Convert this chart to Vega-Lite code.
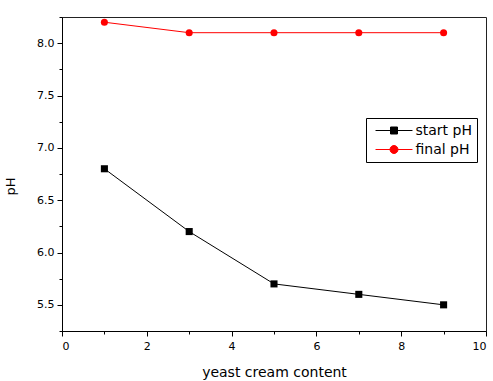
{
  "$schema": "https://vega.github.io/schema/vega-lite/v6.json",
  "width": 424,
  "height": 314,
  "autosize": {"type": "none"},
  "padding": {"left": 62, "top": 17, "right": 7, "bottom": 50},
  "background": "white",
  "config": {
    "view": {"stroke": "#222", "strokeWidth": 1},
    "font": "DejaVu Sans",
    "axis": {
      "domainColor": "black",
      "tickColor": "black",
      "labelColor": "black",
      "titleColor": "black",
      "grid": false,
      "labelFont": "DejaVu Sans",
      "labelFontSize": 11,
      "titleFont": "DejaVu Sans",
      "titleFontWeight": "normal"
    }
  },
  "data": {
    "values": [
      {"content": 1, "pH": 6.8, "series": "start pH"},
      {"content": 3, "pH": 6.2, "series": "start pH"},
      {"content": 5, "pH": 5.7, "series": "start pH"},
      {"content": 7, "pH": 5.6, "series": "start pH"},
      {"content": 9, "pH": 5.5, "series": "start pH"},
      {"content": 1, "pH": 8.2, "series": "final pH"},
      {"content": 3, "pH": 8.1, "series": "final pH"},
      {"content": 5, "pH": 8.1, "series": "final pH"},
      {"content": 7, "pH": 8.1, "series": "final pH"},
      {"content": 9, "pH": 8.1, "series": "final pH"}
    ]
  },
  "encoding": {
    "x": {
      "field": "content",
      "type": "quantitative",
      "scale": {"domain": [0, 10], "nice": false, "zero": false},
      "axis": {
        "title": "yeast cream content",
        "titleFontSize": 14,
        "titlePadding": 14,
        "values": [0, 1, 2, 3, 4, 5, 6, 7, 8, 9, 10],
        "labelExpr": "datum.value % 2 === 0 ? datum.label : ''",
        "tickSize": {"condition": {"test": "datum.value % 2 !== 0", "value": 3}, "value": 5},
        "labelPadding": 4
      }
    },
    "y": {
      "field": "pH",
      "type": "quantitative",
      "scale": {"domain": [5.25, 8.25], "nice": false, "zero": false},
      "axis": {
        "title": "pH",
        "titleFontSize": 13,
        "titleX": -45,
        "titleY": 169,
        "titleAngle": -90,
        "titleAlign": "center",
        "titleBaseline": "bottom",
        "values": [5.25, 5.5, 5.75, 6.0, 6.25, 6.5, 6.75, 7.0, 7.25, 7.5, 7.75, 8.0, 8.25],
        "format": ".1f",
        "labelExpr": "abs(datum.value * 2 - round(datum.value * 2)) > 0.01 ? '' : datum.label",
        "tickSize": {"condition": {"test": "abs(datum.value * 2 - round(datum.value * 2)) > 0.01", "value": 3}, "value": 5},
        "labelPadding": 3
      }
    },
    "color": {
      "field": "series",
      "type": "nominal",
      "scale": {"domain": ["start pH", "final pH"], "range": ["black", "red"]},
      "legend": {
        "orient": "none",
        "legendX": 304,
        "legendY": 101,
        "title": null,
        "strokeColor": "black",
        "padding": 5,
        "symbolSize": 196,
        "symbolStrokeWidth": 1,
        "symbolOffset": 15.5,
        "symbolType": "M-2.64,0H2.64M-0.5,-0.5H0.5V0.5H-0.5Z",
        "labelFont": "DejaVu Sans",
        "labelFontSize": 14,
        "labelColor": "black",
        "labelOffset": 14,
        "rowPadding": 4,
        "encode": {
          "symbols": {
            "update": {
              "shape": {"signal": "datum.value === 'start pH' ? 'M-2.64,0H2.64M-0.5,-0.5H0.5V0.5H-0.5Z' : 'M-2.64,0H2.64M0.57,0A0.57,0.57 0 1,1 -0.57,0A0.57,0.57 0 1,1 0.57,0Z'"},
              "fill": {"scale": "color", "field": "value"},
              "stroke": {"scale": "color", "field": "value"},
              "opacity": {"value": 1}
            }
          }
        }
      }
    }
  },
  "layer": [
    {"mark": {"type": "line", "strokeWidth": 1}},
    {
      "transform": [{"filter": "datum.series === 'start pH'"}],
      "mark": {"type": "point", "filled": true, "size": 50, "opacity": 1, "shape": "square"}
    },
    {
      "transform": [{"filter": "datum.series === 'final pH'"}],
      "mark": {"type": "point", "filled": true, "size": 50, "opacity": 1, "shape": "circle"}
    }
  ]
}
